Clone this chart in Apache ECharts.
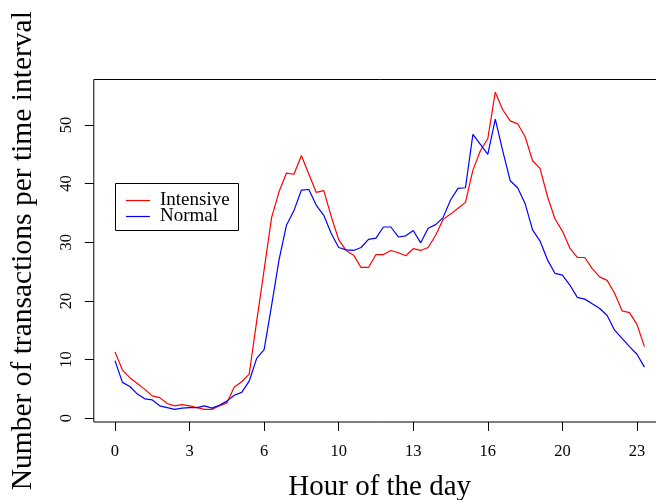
<!DOCTYPE html>
<html>
<head>
<meta charset="utf-8">
<script src="https://cdn.jsdelivr.net/npm/echarts@6/dist/echarts.min.js"></script>
<style>
  html, body { margin: 0; padding: 0; background: #fff; overflow: hidden; }
  #chart { width: 672px; height: 500px; }
</style>
</head>
<body>
<div id="chart"></div>
<script>
// 20-minute slots, 72 per day (slot index 0..71)
var intensive = [
  11.3, 8.2, 6.9, 5.9, 4.9, 3.8, 3.5, 2.5, 2.1, 2.3, 2.1, 1.8,
  1.5, 1.5, 2.1, 2.6, 5.3, 6.2, 7.5, 16.5, 25.3, 34.2, 38.6, 41.8,
  41.6, 44.8, 41.6, 38.5, 38.8, 34.4, 30.4, 28.6, 27.8, 25.7, 25.7, 27.9,
  27.9, 28.6, 28.2, 27.7, 28.9, 28.6, 29.1, 31.2, 33.9, 34.8, 35.8, 36.8,
  42.3, 45.6, 47.7, 55.6, 52.6, 50.7, 50.2, 48.0, 43.9, 42.6, 37.8, 34.0,
  31.9, 29.0, 27.4, 27.4, 25.5, 24.1, 23.5, 21.3, 18.3, 18.0, 16.0, 12.2
];
var normal = [
  9.8, 6.1, 5.4, 4.1, 3.3, 3.1, 2.1, 1.8, 1.5, 1.7, 1.8, 1.8,
  2.1, 1.7, 2.2, 2.9, 3.9, 4.4, 6.3, 10.2, 11.7, 19.2, 27.0, 32.9,
  35.4, 38.9, 39.0, 36.3, 34.6, 31.5, 29.1, 28.7, 28.6, 29.1, 30.5, 30.7,
  32.6, 32.6, 30.9, 31.1, 32.0, 29.9, 32.4, 33.0, 34.2, 37.2, 39.2, 39.3,
  48.4, 46.7, 45.0, 51.0, 45.6, 40.5, 39.3, 36.6, 32.1, 30.2, 27.0, 24.7,
  24.4, 22.7, 20.6, 20.3, 19.5, 18.7, 17.5, 15.0, 13.6, 12.2, 10.9, 8.7
];
var hourTicks = [0, 10, 20, 30, 40, 50, 60, 70];
var hourLabels = ['0', '3', '6', '10', '13', '16', '20', '23'];
var yTicks = [0, 10, 20, 30, 40, 50];

var serif = "'Liberation Serif', 'DejaVu Serif', serif";

function toPoints(arr) {
  return arr.map(function (v, i) { return [i, v]; });
}

var chart = echarts.init(document.getElementById('chart'));
chart.setOption({
  animation: false,
  backgroundColor: '#fff',
  grid: {
    left: 93.8, right: 6.4, top: 79.5, bottom: 78,
    show: true, borderColor: '#000', borderWidth: 1,
    outerBoundsMode: 'none'
  },
  legend: {
    orient: 'vertical',
    left: 126, top: 191,
    padding: 0, itemGap: -3,
    itemWidth: 24, itemHeight: 1.2,
    icon: 'rect',
    textStyle: { fontFamily: serif, fontSize: 19, lineHeight: 15, color: '#000', padding: [0, 0, 0, 5] },
    data: ['Intensive', 'Normal']
  },
  graphic: [{
    type: 'rect',
    shape: { x: 115.5, y: 183.5, width: 123, height: 47 },
    style: { fill: 'none', stroke: '#000', lineWidth: 1 },
    z: 10
  }],
  xAxis: {
    type: 'value', min: -2.84, max: 73.84,
    name: 'Hour of the day', nameLocation: 'middle', nameGap: 51,
    nameTextStyle: { fontFamily: serif, fontSize: 29, lineHeight: 29, color: '#000' },
    axisLine: { show: false, onZero: false },
    axisTick: { show: true, customValues: hourTicks, length: 9, lineStyle: { color: '#000' } },
    axisLabel: {
      customValues: hourTicks, margin: 21,
      fontFamily: serif, fontSize: 16.5, color: '#000',
      formatter: function (v) { return hourLabels[hourTicks.indexOf(v)]; }
    },
    splitLine: { show: false }
  },
  yAxis: {
    type: 'value', min: -0.66, max: 57.76,
    name: 'Number of transactions per time interval', nameLocation: 'middle', nameGap: 56,
    nameTextStyle: { fontFamily: serif, fontSize: 29.5, lineHeight: 29.5, color: '#000' },
    axisLine: { show: false, onZero: false },
    axisTick: { show: true, customValues: yTicks, length: 9, lineStyle: { color: '#000' } },
    axisLabel: {
      customValues: yTicks, margin: 19, rotate: 90,
      fontFamily: serif, fontSize: 16.5, color: '#000'
    },
    splitLine: { show: false }
  },
  series: [
    {
      name: 'Intensive', type: 'line', symbol: 'none',
      data: toPoints(intensive),
      itemStyle: { color: '#ff0000' },
      lineStyle: { color: '#ff0000', width: 1.2 }
    },
    {
      name: 'Normal', type: 'line', symbol: 'none',
      data: toPoints(normal),
      itemStyle: { color: '#0000ff' },
      lineStyle: { color: '#0000ff', width: 1.2 }
    }
  ]
});
</script>
</body>
</html>
